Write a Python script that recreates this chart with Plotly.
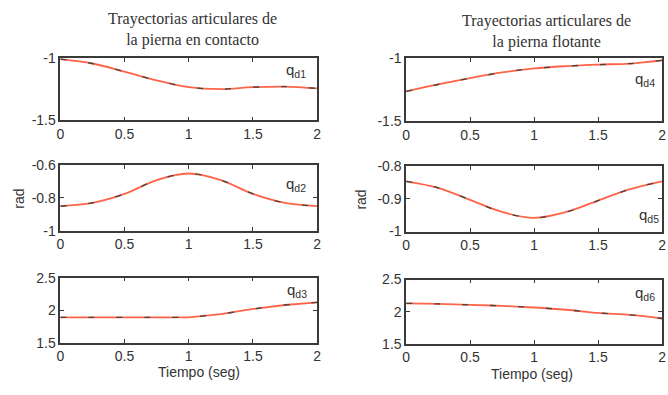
import plotly.graph_objects as go

time = [0.0, 0.25, 0.5, 0.75, 1.0, 1.25, 1.5, 1.75, 2.0]
q_d1 = [-1.01, -1.045, -1.11, -1.18, -1.235, -1.25, -1.235, -1.23, -1.245]
q_d2 = [-0.85, -0.83, -0.775, -0.69, -0.65, -0.69, -0.775, -0.83, -0.85]
q_d3 = [1.89, 1.89, 1.89, 1.89, 1.89, 1.94, 2.02, 2.08, 2.12]
q_d4 = [-1.265, -1.21, -1.16, -1.115, -1.083, -1.065, -1.053, -1.045, -1.02]
q_d5 = [-0.846, -0.866, -0.903, -0.94, -0.958, -0.94, -0.905, -0.87, -0.846]
q_d6 = [2.13, 2.12, 2.106, 2.09, 2.065, 2.03, 1.98, 1.95, 1.894]

x_ticks = [0, 0.5, 1, 1.5, 2]
x_ticktext = ["0", "0.5", "1", "1.5", "2"]
y_ticks = {
    1: [-1.5, -1.0], 2: [-1.0, -0.8, -0.6], 3: [1.5, 2.0, 2.5],
    4: [-1.5, -1.0], 5: [-1.0, -0.9, -0.8], 6: [1.5, 2.0, 2.5],
}
y_ticktext = {
    1: ["-1.5", "-1"], 2: ["-1", "-0.8", "-0.6"], 3: ["1.5", "2", "2.5"],
    4: ["-1.5", "-1"], 5: ["-1", "-0.9", "-0.8"], 6: ["1.5", "2", "2.5"],
}
y_ranges = {1: [-1.5, -1.0], 2: [-1.0, -0.6], 3: [1.5, 2.5],
            4: [-1.5, -1.0], 5: [-1.0, -0.8], 6: [1.5, 2.5]}
series = {1: q_d1, 2: q_d2, 3: q_d3, 4: q_d4, 5: q_d5, 6: q_d6}
labels = {1: "d1", 2: "d2", 3: "d3", 4: "d4", 5: "d5", 6: "d6"}
shapes_kind = {1: "spline", 2: "spline", 3: "linear", 4: "spline", 5: "spline", 6: "spline"}

W, H = 668, 395
# pixel boxes (left, right, top, bottom)
boxes = {
    1: (57, 317, 52, 117), 2: (57, 317, 164, 232), 3: (57, 317, 281, 349),
    4: (407, 666, 52, 118), 5: (407, 666, 165, 233), 6: (407, 666, 283, 350),
}

def px(x):
    return x / W

def py(y):
    return 1 - y / H

fig = go.Figure()
layout = dict(width=W, height=H, margin=dict(l=0, r=0, t=0, b=0),
              paper_bgcolor="white", plot_bgcolor="white", showlegend=False,
              font=dict(family="Liberation Sans, Arial", size=14, color="#333"))

axis_common = dict(showgrid=False, zeroline=False, showline=True, linecolor="#3a3a3a",
                   linewidth=1.5, mirror="ticks", ticks="inside", ticklen=4,
                   tickcolor="#3a3a3a", tickwidth=1,
                   tickfont=dict(family="Liberation Sans, Arial", size=14, color="#333"))

for i in range(1, 7):
    l, r, t, b = boxes[i]
    xa = "x" if i == 1 else f"x{i}"
    ya = "y" if i == 1 else f"y{i}"
    layout["xaxis" if i == 1 else f"xaxis{i}"] = dict(
        axis_common, domain=[px(l), px(r)], anchor=ya, range=[0, 2],
        tickvals=x_ticks, ticktext=x_ticktext)
    layout["yaxis" if i == 1 else f"yaxis{i}"] = dict(
        axis_common, domain=[py(b), py(t)], anchor=xa, range=y_ranges[i],
        tickvals=y_ticks[i], ticktext=y_ticktext[i])
    fig.add_trace(go.Scatter(x=time, y=series[i], xaxis=xa, yaxis=ya, mode="lines",
                             line=dict(color="#ff6448", width=1.8, shape=shapes_kind[i]),
                             hoverinfo="skip"))
    fig.add_trace(go.Scatter(x=time, y=series[i], xaxis=xa, yaxis=ya, mode="lines",
                             line=dict(color="#444", width=1.3, dash="6px,22px",
                                       shape=shapes_kind[i]),
                             hoverinfo="skip"))

annotations = []
label_pos = {1: (296, 65), 2: (296, 184), 3: (297, 294),
             4: (649, 75), 5: (653, 216), 6: (649, 298)}

def ann(x, y, text, font, angle=0):
    return dict(xref="paper", yref="paper", x=px(x), y=py(y), text=text,
                showarrow=False, xanchor="center", yanchor="middle",
                textangle=angle, font=font)

sans = dict(family="Liberation Sans, Arial", size=14, color="#333")
qfont = dict(family="Liberation Sans, Arial", size=15, color="#333")
for i, (x, y) in label_pos.items():
    annotations.append(ann(x, y, f"q<sub>{labels[i]}</sub>", qfont))

serif = dict(family="Liberation Serif, Times New Roman", size=16, color="#333")
annotations.append(ann(191, 22, "Trayectorias articulares de<br>la pierna en contacto", serif))
annotations.append(ann(549, 24, "Trayectorias articulares de<br>la pierna flotante", serif))
for x, y in [(15, 199), (361, 200)]:
    annotations.append(ann(x, y, "rad", sans, -90))
for x, y in [(197, 379), (534, 381)]:
    annotations.append(ann(x, y, "Tiempo (seg)", sans))
layout["annotations"] = annotations
fig.update_layout(**layout)
fig.write_html("out.html")
